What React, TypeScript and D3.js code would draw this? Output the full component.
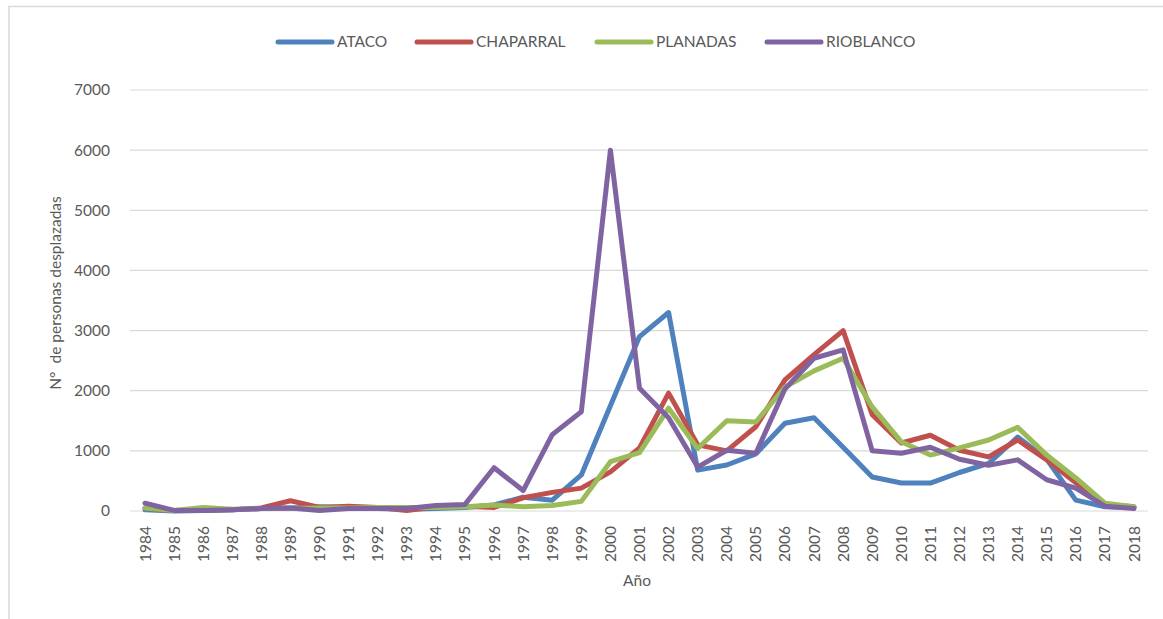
import React from "react";
import * as d3 from "d3";

const years = [
  "1984","1985","1986","1987","1988","1989","1990","1991","1992","1993",
  "1994","1995","1996","1997","1998","1999","2000","2001","2002","2003",
  "2004","2005","2006","2007","2008","2009","2010","2011","2012","2013",
  "2014","2015","2016","2017","2018",
];

const ataco = [20, 0, 10, 20, 40, 50, 70, 60, 40, 30, 40, 60, 100, 230, 180, 600, 1750, 2900, 3300, 680, 765, 950, 1460, 1550, 1060, 565, 465, 465, 640, 790, 1230, 860, 180, 70, 60];
const chaparral = [50, 10, 20, 20, 50, 170, 60, 80, 60, 10, 70, 80, 60, 220, 310, 380, 650, 1050, 1960, 1100, 1000, 1400, 2180, 2600, 3000, 1600, 1130, 1260, 1010, 900, 1180, 850, 470, 110, 70];
const planadas = [50, 10, 60, 30, 40, 40, 50, 50, 60, 60, 60, 70, 100, 70, 90, 160, 820, 970, 1710, 1040, 1500, 1480, 2060, 2330, 2540, 1730, 1150, 930, 1050, 1180, 1390, 930, 550, 130, 70];
const rioblanco = [130, 10, 10, 20, 40, 50, 10, 40, 40, 40, 90, 110, 720, 340, 1270, 1650, 6000, 2040, 1550, 730, 1010, 960, 2030, 2540, 2680, 1000, 960, 1060, 860, 760, 850, 520, 380, 80, 40];

const seriesNames = ["ATACO", "CHAPARRAL", "PLANADAS", "RIOBLANCO"];
const seriesValues = [ataco, chaparral, planadas, rioblanco];
const seriesColors = ["#4f81bd", "#c0504d", "#9bbb59", "#8064a2"];
const yTicks = [0, 1000, 2000, 3000, 4000, 5000, 6000, 7000];

const FONT = "Lato, 'Open Sans', sans-serif";
const TXT = "#595959";
const FS = 15.5;

export default function App() {
  const x = d3.scalePoint<string>().domain(years).range([145, 1134]);
  const y = d3.scaleLinear().domain([0, 7000]).range([511, 90]);
  const line = d3
    .line<number>()
    .x((_, i) => x(years[i]) as number)
    .y((d) => y(d));

  const legendX = [278, 417, 597, 767];

  return (
    <svg
      width={1163}
      height={619}
      style={{ position: "absolute", left: 0, top: 0, background: "#fff" }}
      fontFamily={FONT}
    >
      <rect x={0} y={0} width={1163} height={619} fill="#fff" />
      <path d="M9,619 L9,6.5 L1163,6.5" fill="none" stroke="#d9d9d9" strokeWidth={1.5} />

      {yTicks.map((t) => (
        <g key={t}>
          <line x1={130} x2={1148} y1={y(t)} y2={y(t)} stroke="#d9d9d9" strokeWidth={1.2} />
          <text x={110} y={y(t)} dy="0.35em" textAnchor="end" fontSize={FS} fill={TXT}>
            {t}
          </text>
        </g>
      ))}

      {years.map((yr) => (
        <text
          key={yr}
          transform={`translate(${(x(yr) as number) + 5.5},${526}) rotate(-90)`}
          textAnchor="end"
          fontSize={FS}
          fill={TXT}
        >
          {yr}
        </text>
      ))}

      <text x={637} y={586} textAnchor="middle" fontSize={FS} fill={TXT}>
        Año
      </text>
      <text
        transform="translate(61,293) rotate(-90)"
        textAnchor="middle"
        fontSize={FS}
        fill={TXT}
        style={{ whiteSpace: "pre" }}
      >
        {"N°\u00a0 de personas desplazadas"}
      </text>

      {seriesValues.map((vals, i) => (
        <path
          key={seriesNames[i]}
          d={line(vals) as string}
          fill="none"
          stroke={seriesColors[i]}
          strokeWidth={5}
          strokeLinejoin="round"
          strokeLinecap="round"
        />
      ))}

      {seriesNames.map((n, i) => (
        <g key={n}>
          <line
            x1={legendX[i]}
            x2={legendX[i] + 54}
            y1={42}
            y2={42}
            stroke={seriesColors[i]}
            strokeWidth={5}
            strokeLinecap="round"
          />
          <text x={legendX[i] + 59} y={42} dy="0.35em" fontSize={FS} fill={TXT}>
            {n}
          </text>
        </g>
      ))}
    </svg>
  );
}
